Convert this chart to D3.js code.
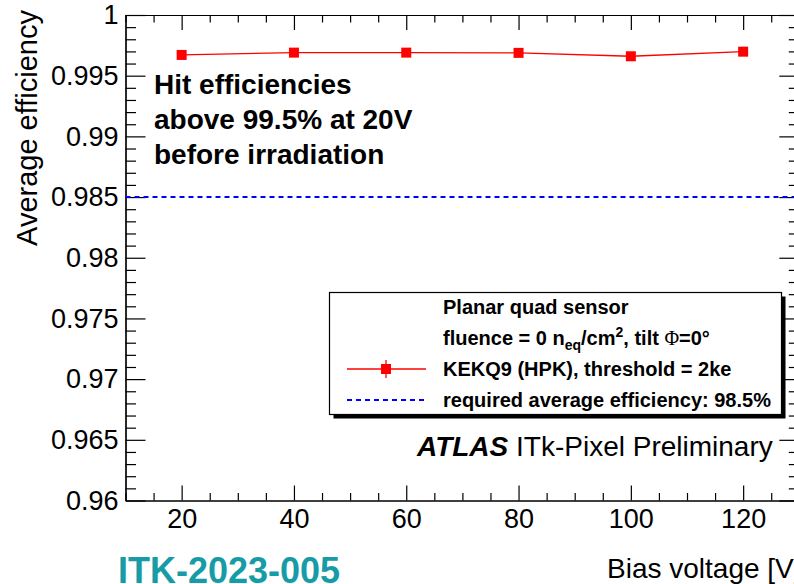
<!DOCTYPE html>
<html>
<head>
<meta charset="utf-8">
<script src="https://cdn.jsdelivr.net/npm/d3@7"></script>
<style>
  html, body { margin: 0; padding: 0; background: #fff; }
  svg { display: block; font-family: "Liberation Sans", Arial, Helvetica, sans-serif; }
</style>
</head>
<body>
<svg id="chart" width="794" height="584"></svg>
<script>
// ---- data ----
const voltages = [20, 40, 60, 80, 100, 120];
const efficiency = [0.99671, 0.99690, 0.99690, 0.99688, 0.99660, 0.99698];
const requiredEfficiency = 0.985;
const xTickValues = [20, 40, 60, 80, 100, 120];
const yTickValues = [0.96, 0.965, 0.97, 0.975, 0.98, 0.985, 0.99, 0.995, 1];
const yTickLabels = ["0.96", "0.965", "0.97", "0.975", "0.98", "0.985", "0.99", "0.995", "1"];
const xDomain = [10, 130];
const yDomain = [0.96, 1];

const svg = d3.select("#chart");
svg.append("rect").attr("width", 794).attr("height", 584).attr("fill", "#fff");

const x = d3.scaleLinear().domain(xDomain).range([125.5, 799.3]);
const y = d3.scaleLinear().domain(yDomain).range([500.5, 15]);

const xMinor = d3.range(10, 131, 5).filter(v => !xTickValues.includes(v));
const yMinor = d3.range(0, 41).map(i => +(0.96 + i * 0.001).toFixed(3))
  .filter(v => !yTickValues.some(t => Math.abs(t - v) < 1e-9));

function styleAxis(g, fontSize) {
  g.selectAll("path.domain").attr("stroke", "#000").attr("stroke-width", 1.2);
  g.selectAll(".tick line").attr("stroke", "#000").attr("stroke-width", 1.2);
  g.selectAll(".tick text").attr("fill", "#000").attr("font-size", fontSize)
    .attr("font-family", "Liberation Sans, Arial, sans-serif");
}

// bottom axis
const gB = svg.append("g").attr("transform", `translate(0,${y.range()[0]})`)
  .call(d3.axisBottom(x).tickValues(xTickValues).tickFormat(d3.format("d"))
    .tickSizeInner(-15).tickSizeOuter(0).tickPadding(8));
styleAxis(gB, 27);
const gBm = svg.append("g").attr("transform", `translate(0,${y.range()[0]})`)
  .call(d3.axisBottom(x).tickValues(xMinor).tickFormat("").tickSizeInner(-7.5).tickSizeOuter(0));
styleAxis(gBm, 27);

// top axis
const gT = svg.append("g").attr("transform", `translate(0,${y.range()[1]})`)
  .call(d3.axisTop(x).tickValues(xTickValues).tickFormat("").tickSizeInner(-15).tickSizeOuter(0));
styleAxis(gT, 27);
const gTm = svg.append("g").attr("transform", `translate(0,${y.range()[1]})`)
  .call(d3.axisTop(x).tickValues(xMinor).tickFormat("").tickSizeInner(-7.5).tickSizeOuter(0));
styleAxis(gTm, 27);

// left axis
const gL = svg.append("g").attr("transform", `translate(${x.range()[0]},0)`)
  .call(d3.axisLeft(y).tickValues(yTickValues).tickFormat((d, i) => yTickLabels[i])
    .tickSizeInner(-20).tickSizeOuter(0).tickPadding(7));
styleAxis(gL, 27);
const gLm = svg.append("g").attr("transform", `translate(${x.range()[0]},0)`)
  .call(d3.axisLeft(y).tickValues(yMinor).tickFormat("").tickSizeInner(-10.5).tickSizeOuter(0));
styleAxis(gLm, 27);

// right axis
const gR = svg.append("g").attr("transform", `translate(${x.range()[1]},0)`)
  .call(d3.axisRight(y).tickValues(yTickValues).tickFormat("").tickSizeInner(-20).tickSizeOuter(0));
styleAxis(gR, 27);
const gRm = svg.append("g").attr("transform", `translate(${x.range()[1]},0)`)
  .call(d3.axisRight(y).tickValues(yMinor).tickFormat("").tickSizeInner(-10.5).tickSizeOuter(0));
styleAxis(gRm, 27);

// required efficiency line
svg.append("line")
  .attr("x1", x(xDomain[0])).attr("x2", x(xDomain[1]))
  .attr("y1", y(requiredEfficiency)).attr("y2", y(requiredEfficiency))
  .attr("stroke", "#0000ff").attr("stroke-width", 2).attr("stroke-dasharray", "5,4");

// data line + markers
const pts = voltages.map((v, i) => [v, efficiency[i]]);
svg.append("path").datum(pts)
  .attr("d", d3.line().x(d => x(d[0])).y(d => y(d[1])))
  .attr("fill", "none").attr("stroke", "#ff0000").attr("stroke-width", 1.3);
svg.selectAll("rect.mk").data(pts).enter().append("rect").attr("class", "mk")
  .attr("x", d => x(d[0]) - 5).attr("y", d => y(d[1]) - 5)
  .attr("width", 10).attr("height", 10).attr("fill", "#ff0000");

// axis titles
svg.append("text")
  .attr("transform", "translate(37,10) rotate(-90)")
  .attr("text-anchor", "end").attr("font-size", 29).attr("fill", "#000")
  .text("Average efficiency");
svg.append("text")
  .attr("x", 607).attr("y", 578).attr("font-size", 28).attr("fill", "#000")
  .text("Bias voltage [V]");

// annotation
const hit = ["Hit efficiencies", "above 99.5% at 20V", "before irradiation"];
svg.append("g").selectAll("text").data(hit).enter().append("text")
  .attr("x", 154).attr("y", (d, i) => 94 + i * 35)
  .attr("font-size", 28).attr("font-weight", "bold").attr("fill", "#000")
  .text(d => d);

// legend
const lg = svg.append("g");
const bx = 329.5, by = 292.5, bw = 452, bh = 122;
lg.append("rect").attr("x", bx + 4).attr("y", by + 4).attr("width", bw).attr("height", bh).attr("fill", "#000");
lg.append("rect").attr("x", bx).attr("y", by).attr("width", bw).attr("height", bh)
  .attr("fill", "#fff").attr("stroke", "#000").attr("stroke-width", 1.2);
const rowY = [307, 338, 369, 400];
const tx = 443;
const fs = 20;
lg.append("text").attr("x", tx).attr("y", rowY[0]).attr("dy", "0.36em")
  .attr("font-size", fs).attr("font-weight", "bold").text("Planar quad sensor");
const t2 = lg.append("text").attr("x", tx).attr("y", rowY[1]).attr("dy", "0.36em")
  .attr("font-size", fs).attr("font-weight", "bold");
t2.append("tspan").text("fluence = 0 n");
t2.append("tspan").attr("font-size", 14).attr("dy", 5).text("eq");
t2.append("tspan").attr("dy", -5).text("/cm");
t2.append("tspan").attr("font-size", 14).attr("dy", -8).text("2");
t2.append("tspan").attr("dy", 8).text(", tilt ");
t2.append("tspan").attr("font-family", "Liberation Serif, DejaVu Serif, serif").attr("font-weight", "normal").text("Φ");
t2.append("tspan").text("=0°");
lg.append("text").attr("x", tx).attr("y", rowY[2]).attr("dy", "0.36em")
  .attr("font-size", fs).attr("font-weight", "bold").text("KEKQ9 (HPK), threshold = 2ke");
lg.append("text").attr("x", tx).attr("y", rowY[3]).attr("dy", "0.36em")
  .attr("font-size", fs).attr("font-weight", "bold").text("required average efficiency: 98.5%");
// legend symbols
lg.append("line").attr("x1", 347).attr("x2", 426).attr("y1", rowY[2]).attr("y2", rowY[2])
  .attr("stroke", "#ff0000").attr("stroke-width", 1.3);
lg.append("line").attr("x1", 386).attr("x2", 386).attr("y1", rowY[2] - 9).attr("y2", rowY[2] + 9)
  .attr("stroke", "#ff0000").attr("stroke-width", 1.3);
lg.append("rect").attr("x", 381).attr("y", rowY[2] - 5).attr("width", 10).attr("height", 10).attr("fill", "#ff0000");
lg.append("line").attr("x1", 347).attr("x2", 426).attr("y1", rowY[3]).attr("y2", rowY[3])
  .attr("stroke", "#0000ff").attr("stroke-width", 2).attr("stroke-dasharray", "5,4");

// ATLAS label
const at = svg.append("text").attr("x", 417).attr("y", 456).attr("font-size", 28).attr("fill", "#000");
at.append("tspan").attr("font-weight", "bold").attr("font-style", "italic").text("ATLAS");
at.append("tspan").text(" ITk-Pixel Preliminary");

// reference id
svg.append("text").attr("x", 118).attr("y", 583).attr("font-size", 36).attr("font-weight", "bold")
  .attr("fill", "#179ca7").text("ITK-2023-005");
</script>
</body>
</html>
